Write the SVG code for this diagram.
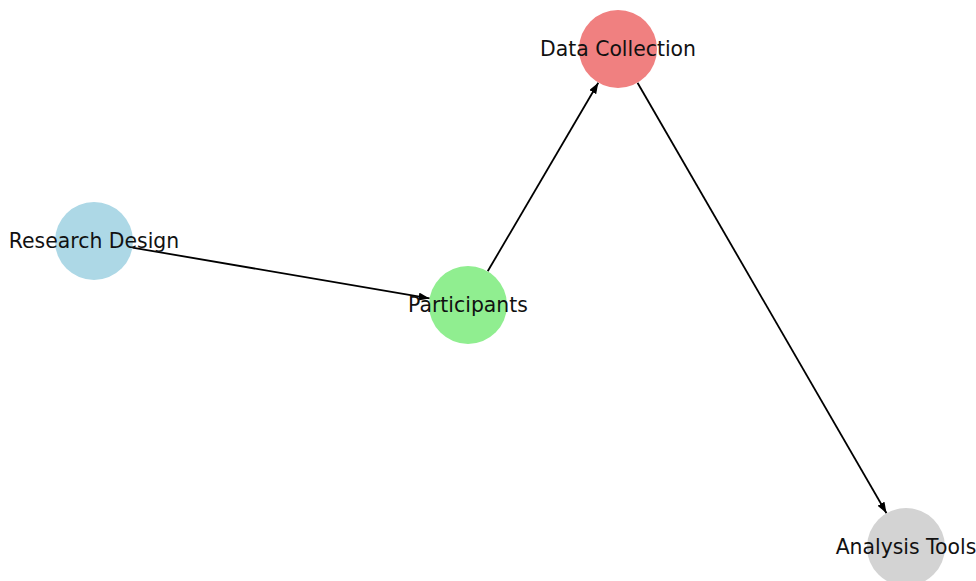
<svg xmlns="http://www.w3.org/2000/svg" width="976" height="581" viewBox="0 0 976 581">
  <style>
    .edge { stroke: #000; stroke-width: 1.8; fill: none; marker-end: url(#head); }
    .label { font-family: "DejaVu Sans", "Liberation Sans", sans-serif; font-size: 20.4px; fill: #111; text-anchor: middle; }
  </style>
  <defs>
    <marker id="head" markerUnits="userSpaceOnUse" markerWidth="12" markerHeight="9" refX="11" refY="4" orient="auto">
      <path d="M0,0 L11,4 L0,8 Z" fill="#000"/>
    </marker>
  </defs>
  <rect width="976" height="581" fill="#fff"/>

  <g id="connectors">
    <line class="edge" x1="132.4" y1="247.6" x2="429.6" y2="298.4"/>
    <line class="edge" x1="487.7" y1="271.3" x2="598.3" y2="82.7"/>
    <line class="edge" x1="637.5" y1="82.8" x2="886.5" y2="513.2"/>
  </g>

  <g id="research-design">
    <circle cx="94" cy="241" r="39" fill="#ADD8E6"/>
    <text class="label" x="94" y="247.5">Research Design</text>
  </g>
  <g id="participants">
    <circle cx="468" cy="305" r="39" fill="#90EE90"/>
    <text class="label" x="468" y="311.5">Participants</text>
  </g>
  <g id="data-collection">
    <circle cx="618" cy="49" r="39" fill="#F08080"/>
    <text class="label" x="618" y="55.5">Data Collection</text>
  </g>
  <g id="analysis-tools">
    <circle cx="906" cy="547" r="39" fill="#D3D3D3"/>
    <text class="label" x="906" y="553.5">Analysis Tools</text>
  </g>
</svg>
